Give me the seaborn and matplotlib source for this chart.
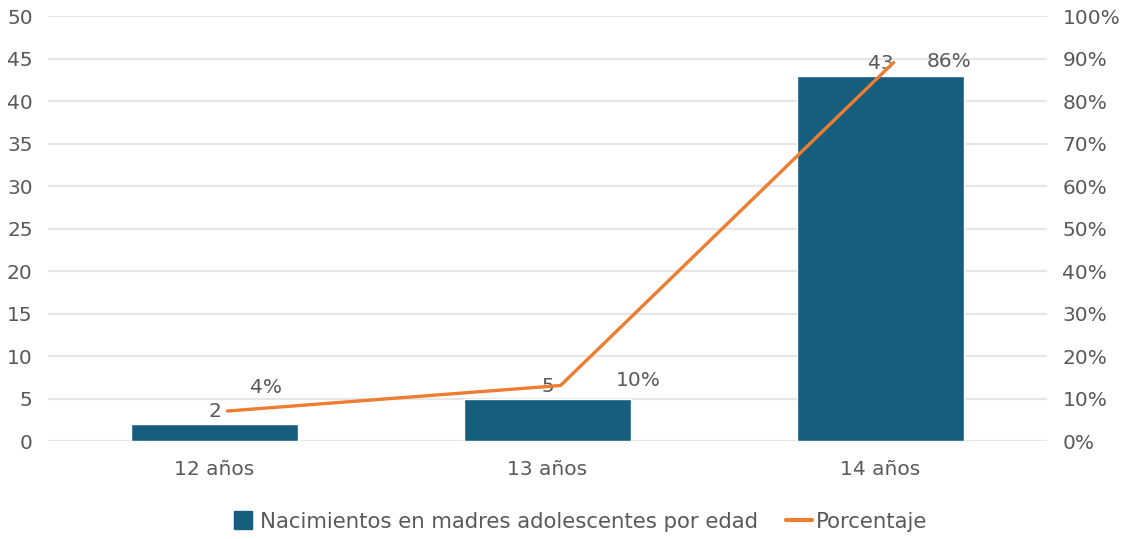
import pandas as pd
import matplotlib
matplotlib.use('Agg')
import matplotlib.pyplot as plt
import seaborn as sns
from matplotlib.lines import Line2D
from matplotlib.transforms import ScaledTranslation
from matplotlib.ticker import FuncFormatter

# datos
edades = ['12 años', '13 años', '14 años']
nacimientos = [2, 5, 43]
porcentaje = [4, 10, 86]
etiquetas_pct = ['4%', '10%', '86%']

azul = '#175E7E'
naranja = '#ED7D31'
gris = '#595959'

sns.set_theme(style='white')
plt.rcParams['font.family'] = ['DejaVu Sans']
plt.rcParams['font.size'] = 14.5

df = pd.DataFrame({'edad': edades, 'nacimientos': nacimientos,
                   'porcentaje': porcentaje, 'pos': range(len(edades))})

fig = plt.figure(figsize=(11.22, 5.39), dpi=100)
ax = fig.add_axes([0.0428, 0.1818, 0.8904, 0.7885])

sns.barplot(data=df, x='edad', y='nacimientos', color=azul, width=0.5,
            saturation=1, ax=ax)
ax.set_xlim(-0.5, 2.5)
ax.set_ylim(0, 50)
ax.set_yticks(range(0, 51, 5))
ax.set_xlabel('')
ax.set_ylabel('')
ax.yaxis.grid(True, color='#E6E6E6', linewidth=1.6)
ax.set_axisbelow(True)
for s in ax.spines.values():
    s.set_visible(False)
ax.tick_params(axis='y', length=0, pad=11, colors=gris, labelsize=14.5)
ax.tick_params(axis='x', length=0, pad=14, colors=gris, labelsize=14.5)

# etiquetas de las barras
for i, v in enumerate(nacimientos):
    ax.annotate(str(v), (i, v), xytext=(0, 9), textcoords='offset points',
                ha='center', va='center', color=gris, fontsize=14.5)

ax2 = ax.twinx()
sns.lineplot(data=df, x='pos', y='porcentaje', color=naranja, linewidth=2.4,
             ax=ax2)
ax2.set_ylim(0, 100)
ax2.set_yticks(range(0, 101, 10))
ax2.yaxis.set_major_formatter(FuncFormatter(lambda v, p: f'{v:.0f}%'))
ax2.set_ylabel('')
ax2.set_xlabel('')
ax2.grid(False)
for s in ax2.spines.values():
    s.set_visible(False)
ax2.tick_params(axis='y', length=0, pad=11, colors=gris, labelsize=14.5)
ax2.set_xlim(-0.5, 2.5)

# la linea aparece desplazada en la original
desp = ScaledTranslation(13 / 100, 13 / 100, fig.dpi_scale_trans)
ax2.lines[0].set_transform(ax2.transData + desp)

offsets_pct = [(37, 26), (65, 13), (49, 10)]
for i, (v, t) in enumerate(zip(porcentaje, etiquetas_pct)):
    ax2.annotate(t, (i, v), xytext=offsets_pct[i], textcoords='offset points',
                 ha='center', va='center', color=gris, fontsize=14.5)

handles = [Line2D([], [], marker='s', linestyle='none', markersize=13,
                  markerfacecolor=azul, markeredgecolor=azul),
           Line2D([], [], color=naranja, linewidth=3)]
fig.legend(handles, ['Nacimientos en madres adolescentes por edad', 'Porcentaje'],
           loc='center', bbox_to_anchor=(0.516, 0.032), ncol=2, frameon=False,
           handlelength=1.2, handletextpad=0.2, columnspacing=1.3,
           labelcolor=gris, fontsize=15.3)

fig.savefig('out.png', dpi=100)
